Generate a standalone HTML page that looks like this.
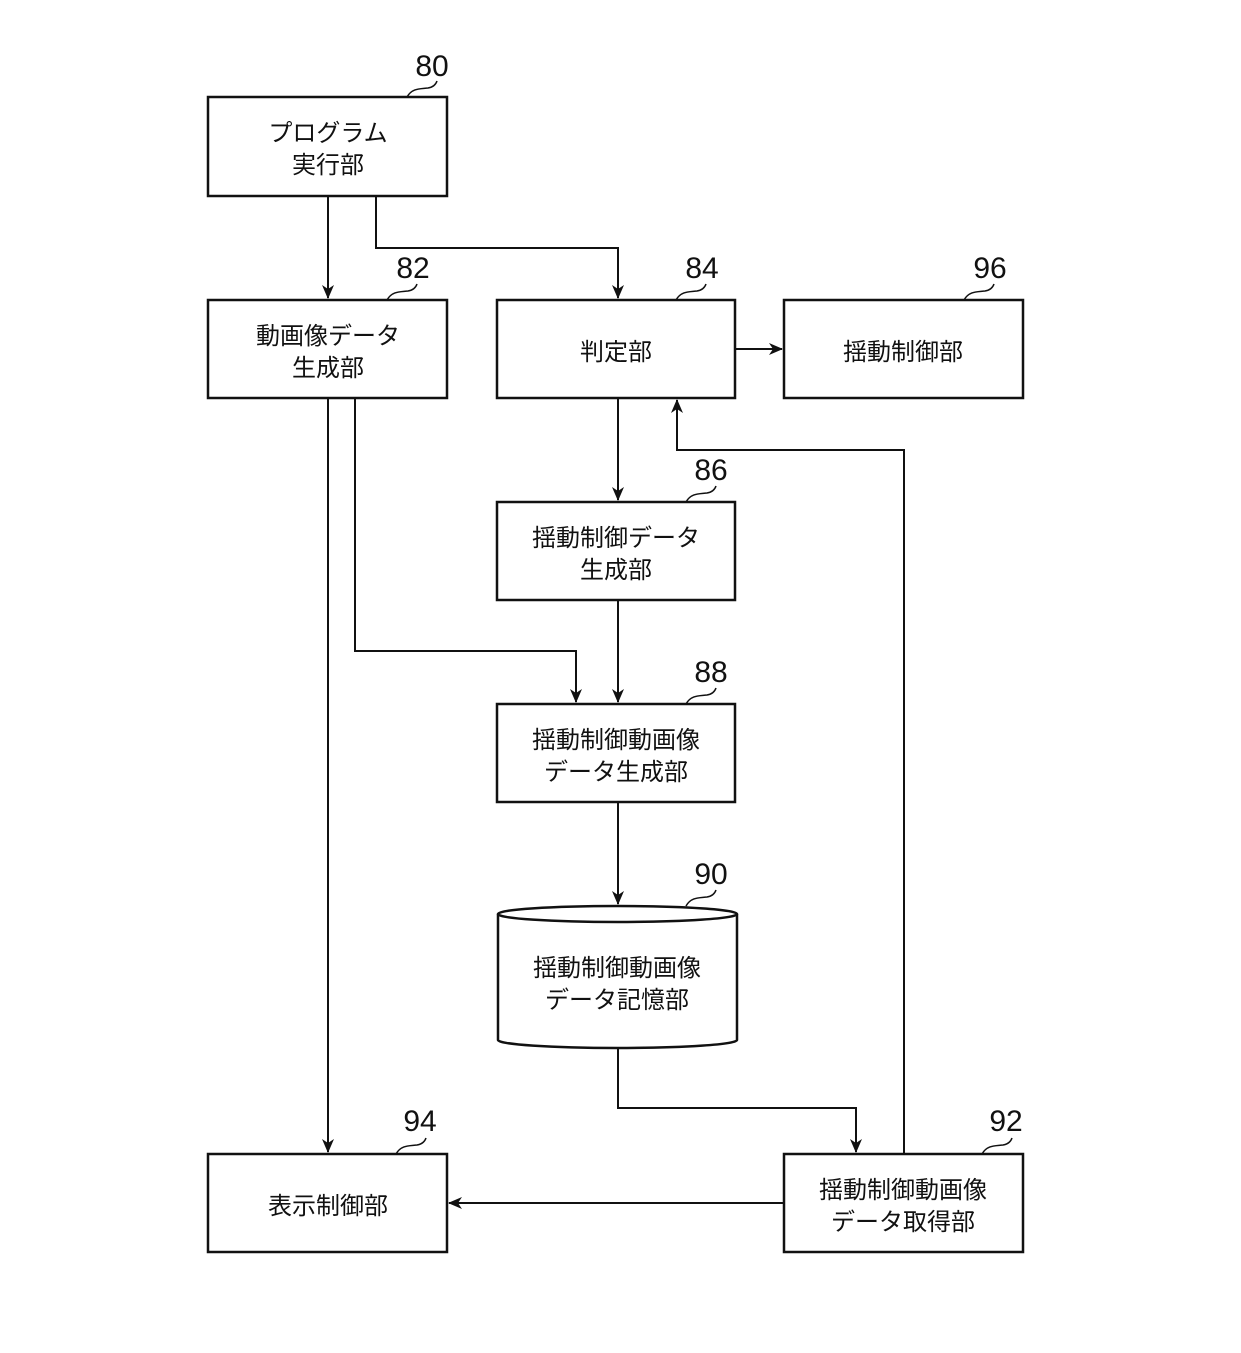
<!DOCTYPE html>
<html><head><meta charset="utf-8"><style>
html,body{margin:0;padding:0;background:#fff;}
svg{display:block;}
text{font-family:"Liberation Sans","Noto Sans CJK JP",sans-serif;fill:#111;}
.t{font-size:24px;text-anchor:middle;}
.n{font-size:30px;text-anchor:middle;}
</style></head><body>
<svg width="1241" height="1353" viewBox="0 0 1241 1353" xmlns="http://www.w3.org/2000/svg">
<defs><marker id="a" markerWidth="14" markerHeight="12" refX="13" refY="6" orient="auto" markerUnits="userSpaceOnUse"><path d="M0,0 L14,6 L0,12 L4,6 Z" fill="#111"/></marker></defs>
<g fill="none" stroke="#111" stroke-width="2.5">
<rect x="208" y="97" width="239" height="99"/>
<rect x="208" y="300" width="239" height="98"/>
<rect x="497" y="300" width="238" height="98"/>
<rect x="784" y="300" width="239" height="98"/>
<rect x="497" y="502" width="238" height="98"/>
<rect x="497" y="704" width="238" height="98"/>
<rect x="208" y="1154" width="239" height="98"/>
<rect x="784" y="1154" width="239" height="98"/>
<path d="M498,914 L498,1040 A119.5,8 0 0 0 737,1040 L737,914"/>
<ellipse cx="617.5" cy="914" rx="119.5" ry="8"/>
</g>
<g fill="none" stroke="#111" stroke-width="2">
<path d="M328,196 V298" marker-end="url(#a)"/>
<path d="M376,196 V248 H618 V298" marker-end="url(#a)"/>
<path d="M328,398 V1152" marker-end="url(#a)"/>
<path d="M355,398 V651 H576 V702" marker-end="url(#a)"/>
<path d="M735,349 H782" marker-end="url(#a)"/>
<path d="M618,398 V500" marker-end="url(#a)"/>
<path d="M618,600 V702" marker-end="url(#a)"/>
<path d="M618,802 V904" marker-end="url(#a)"/>
<path d="M618,1048 V1108 H856 V1152" marker-end="url(#a)"/>
<path d="M904,1154 V450 H677 V400" marker-end="url(#a)"/>
<path d="M784,1203 H449" marker-end="url(#a)"/>
</g>
<g fill="none" stroke="#111" stroke-width="1.5">
<path d="M407,97 C412,88 420,89 428,88 C434,87 436,84 437,81"/>
<path d="M387,300 C392,291 400,292 408,291 C414,290 416,287 417,284"/>
<path d="M676,300 C681,291 689,292 697,291 C703,290 705,287 706,284"/>
<path d="M964,300 C969,291 977,292 985,291 C991,290 993,287 994,284"/>
<path d="M686,502 C691,493 699,494 707,493 C713,492 715,489 716,486"/>
<path d="M686,704 C691,695 699,696 707,695 C713,694 715,691 716,688"/>
<path d="M686,906 C691,897 699,898 707,897 C713,896 715,893 716,890"/>
<path d="M396,1154 C401,1145 409,1146 417,1145 C423,1144 425,1141 426,1138"/>
<path d="M982,1154 C987,1145 995,1146 1003,1145 C1009,1144 1011,1141 1012,1138"/>
</g>
<text class="n" x="432" y="76">80</text>
<text class="n" x="413" y="278">82</text>
<text class="n" x="702" y="278">84</text>
<text class="n" x="990" y="278">96</text>
<text class="n" x="711" y="480">86</text>
<text class="n" x="711" y="682">88</text>
<text class="n" x="711" y="884">90</text>
<text class="n" x="420" y="1131">94</text>
<text class="n" x="1006" y="1131">92</text>
<text class="t" x="328" y="141">プログラム</text>
<text class="t" x="328" y="173">実行部</text>
<text class="t" x="328" y="344">動画像データ</text>
<text class="t" x="328" y="376">生成部</text>
<text class="t" x="616" y="360">判定部</text>
<text class="t" x="903" y="360">揺動制御部</text>
<text class="t" x="616" y="546">揺動制御データ</text>
<text class="t" x="616" y="578">生成部</text>
<text class="t" x="616" y="748">揺動制御動画像</text>
<text class="t" x="616" y="780">データ生成部</text>
<text class="t" x="617" y="976">揺動制御動画像</text>
<text class="t" x="617" y="1008">データ記憶部</text>
<text class="t" x="328" y="1214">表示制御部</text>
<text class="t" x="903" y="1198">揺動制御動画像</text>
<text class="t" x="903" y="1230">データ取得部</text>
</svg>
</body></html>
